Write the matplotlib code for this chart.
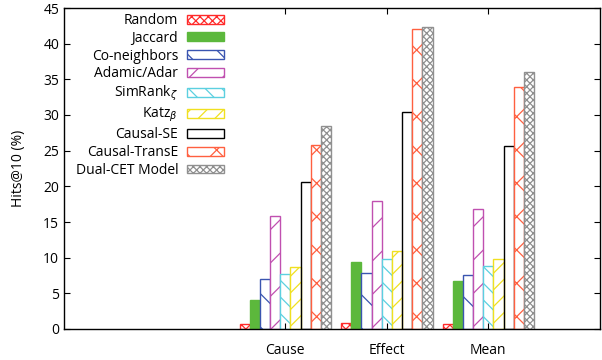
import numpy as np
import matplotlib
matplotlib.use('Agg')
import matplotlib.pyplot as plt

plt.rcParams['font.family'] = ['Open Sans', 'DejaVu Sans']
plt.rcParams['hatch.linewidth'] = 0.9

categories = ['Cause', 'Effect', 'Mean']
methods = ['Random', 'Jaccard', 'Co-neighbors', 'Adamic/Adar', r'SimRank$_\zeta$',
           r'Katz$_\beta$', 'Causal-SE', 'Causal-TransE', 'Dual-CET Model']

random_v = [0.7, 0.8, 0.7]
jaccard = [4.1, 9.4, 6.7]
co_neighbors = [7.0, 7.8, 7.6]
adamic_adar = [15.8, 17.9, 16.8]
simrank = [7.7, 9.8, 8.8]
katz = [8.7, 10.9, 9.8]
causal_se = [20.6, 30.4, 25.6]
causal_transe = [25.8, 42.1, 33.9]
dual_cet = [28.5, 42.4, 36.0]

series = [random_v, jaccard, co_neighbors, adamic_adar, simrank,
          katz, causal_se, causal_transe, dual_cet]

# (face, edge, hatch)
styles = [
    ('white', '#ff2a2a', 'xxxx'),
    ('#5cb83c', '#5cb83c', None),
    ('white', '#3a55b0', '\\'),
    ('white', '#c050b0', '/'),
    ('white', '#5cd0e0', '\\\\'),
    ('white', '#f0e020', '//'),
    ('none', 'black', None),
    ('white', '#ff6040', 'x'),
    ('white', '#909090', 'xxxxx'),
]

fig = plt.figure(figsize=(6.02, 3.6), dpi=100)
ax = fig.add_axes([64/602, 1 - 329/360, 536/602, 321/360])

x = np.arange(len(categories))
w = 0.1
for i, (vals, (fc, ec, h)) in enumerate(zip(series, styles)):
    ax.bar(x + (i - 4) * w, vals, w, facecolor=fc, edgecolor=ec, hatch=h,
           linewidth=1.0, label=methods[i])

ax.set_xlim(-2.18, 3.1)
ax.set_ylim(0, 45)
ax.set_yticks(np.arange(0, 46, 5))
ax.set_xticks(x)
ax.set_xticklabels(categories)
ax.tick_params(direction='in', top=True, right=True, length=4, labelsize=10, width=0.8)
ax.tick_params(axis='x', pad=10)
ax.set_ylabel('Hits@10 (%)', fontsize=10, labelpad=12)
for s in ax.spines.values():
    s.set_linewidth(1.0)

leg = ax.legend(loc='upper right', bbox_to_anchor=(224/602, 1 - 13/360),
                bbox_transform=fig.transFigure, frameon=False, markerfirst=False,
                fontsize=10, handlelength=2.7, handleheight=0.6, handletextpad=0.6,
                labelspacing=0.2, borderpad=0, borderaxespad=0)

fig.savefig('out.png', dpi=100)
